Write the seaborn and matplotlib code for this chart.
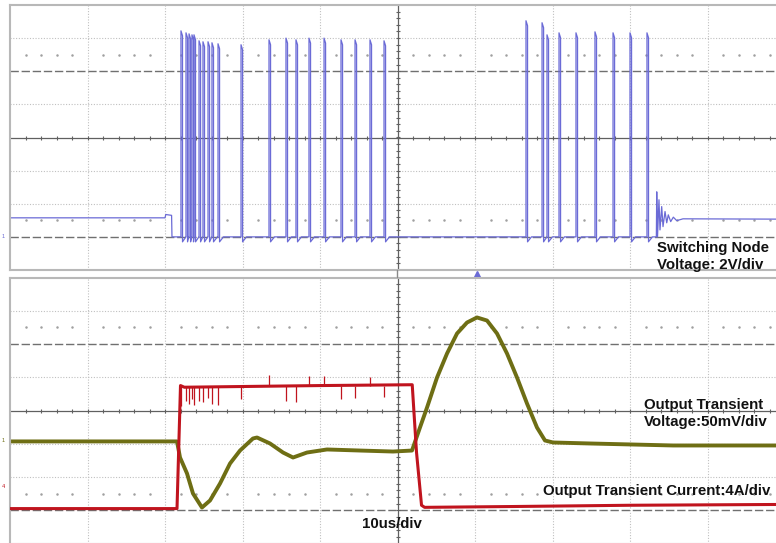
"""
Scope capture: load transient with switching node, output voltage and load current.
Time in us (10us/div), switch node in V (2V/div), Vout in mV (50mV/div), Iout in A (4A/div).
"""

import matplotlib.pyplot as plt
import numpy as np
import pandas as pd
import seaborn as sns

# ---- switching node (top panel) ----
sw_lead_t = [-50.0, -30.0, -29.9, -29.15, -29.1]
sw_lead_v = [1.15, 1.15, 1.35, 1.3, 0.0]
sw_pulse_t = [-27.94, -27.29, -26.90, -26.52, -26.26, -25.61, -25.10, -24.45, -23.94, -23.16,
              -20.19, -16.58, -14.39, -13.10, -11.42, -9.48, -7.29, -5.48, -3.55, -1.74,
              16.58, 18.65, 19.29, 20.84, 23.03, 25.48, 27.81, 30.00, 32.19]
sw_pulse_v = [12.44, 12.32, 12.26, 12.2, 12.2, 11.84, 11.78, 11.78, 11.72, 11.66,
              11.6, 11.9, 12.0, 11.9, 12.0, 12.0, 11.9, 11.9, 11.9, 11.84,
              13.05, 12.93, 12.2, 12.32, 12.32, 12.38, 12.32, 12.32, 12.32]
ring_t = [33.40, 33.45, 33.55, 33.74, 33.87, 34.09, 34.26, 34.52, 34.74, 34.94,
          35.25, 35.59, 36.03, 36.84, 50.0]
ring_v = [0.0, 2.72, 0.0, 2.24, 0.42, 1.83, 0.62, 1.53, 0.85, 1.33,
          0.92, 1.19, 0.98, 1.09, 1.07]

# ---- output voltage (bottom panel, mV) ----
vout_t = [-50.0, -28.45, -28.06, -27.16, -26.39, -25.23, -24.19, -22.9, -21.61, -20.32,
          -18.65, -18.13, -16.45, -14.77, -13.48, -11.68, -9.10, -4.84, -0.58, 1.87,
          2.90, 3.81, 5.10, 6.39, 7.68, 8.97, 10.26, 11.55, 12.84, 14.13,
          15.42, 16.71, 18.0, 19.03, 20.06, 24.84, 35.55, 50.0]
vout_mv = [3.5, 3.5, -20.7, -44.7, -74.8, -95.9, -85.3, -59.8, -29.7, -10.2,
           7.9, 9.4, 0.4, -13.2, -20.7, -13.2, -8.6, -10.2, -11.7, -10.2,
           24.4, 54.5, 99.6, 135.7, 165.8, 182.3, 189.9, 185.3, 165.8, 135.7,
           99.6, 60.5, 24.4, 4.9, 1.9, 0.4, -2.6, -2.6]

# ---- output current (bottom panel, A) ----
iout_t = [-50.0, -28.45, -28.0, -27.5, -10.0, 1.9, 2.45, 3.1, 3.5, 15.0, 30.0, 50.0]
iout_a = [0.2, 0.2, 15.0, 14.8, 15.0, 15.1, 7.0, 0.6, 0.35, 0.45, 0.6, 0.7]
spike_a = [-2.4, -1.8, -2.2, -1.6, -2.3, -1.8, -2.0, -1.5, -2.2, -2.3,
           -1.6, 1.3, -1.8, -2.0, 1.2, 1.1, -1.6, -1.5, 1.0, -1.4]

BLUE = '#6b6bd6'
OLIVE = '#6e6e14'
RED = '#c0141e'

sns.set_style('white')
plt.rcParams['font.family'] = ['Liberation Sans', 'DejaVu Sans']

W, H = 776, 543
fig = plt.figure(figsize=(W / 100, H / 100), dpi=100)
ax_top = fig.add_axes([10 / W, 273 / H, 775 / W, 265 / H])
ax_bot = fig.add_axes([10 / W, -0.5 / H, 775 / W, 266 / H])


def graticule(ax, center, per_div):
    ax.set_xlim(-50, 50)
    ax.set_ylim(center - 4 * per_div, center + 4 * per_div)
    for t in range(-40, 50, 10):
        if t != 0:
            ax.axvline(t, color='#c0c0c0', lw=0.8, ls=(0, (1, 1.5)), zorder=0)
    for k in [-3, -2, -1, 1, 2, 3]:
        if k in (2, -3):
            ax.axhline(center + k * per_div, color='#707070', lw=1.0, ls=(0, (6, 2)), zorder=0)
        else:
            ax.axhline(center + k * per_div, color='#c0c0c0', lw=0.8, ls=(0, (1, 1.5)), zorder=0)
    ax.axhline(center, color='#606060', lw=0.9, zorder=0)
    ax.axvline(0, color='#606060', lw=0.9, zorder=0)
    xt = np.arange(-48, 50, 2)
    ax.plot(xt, np.full(len(xt), center), ls='none', marker='|', ms=3.5, mew=0.8, color='#606060', zorder=0)
    yt = center + np.arange(-3.8, 3.9, 0.2) * per_div
    ax.plot(np.zeros(len(yt)), yt, ls='none', marker='_', ms=3.5, mew=0.8, color='#606060', zorder=0)
    xd = xt[xt % 10 != 0]
    for k in (2.5, -2.5):
        ax.plot(xd, np.full(len(xd), center + k * per_div), ls='none', marker='o', ms=0.8,
                color='#a0a0a0', zorder=0)
    ax.set_xticks([])
    ax.set_yticks([])
    ax.set_xlabel('')
    ax.set_ylabel('')
    for s in ax.spines.values():
        s.set_color('#b8b8b8')
        s.set_linewidth(1.5)


graticule(ax_top, 6.0, 2.0)
graticule(ax_bot, 50.0, 50.0)

# build switching node trace from the pulse list
sw_x = list(sw_lead_t)
sw_y = list(sw_lead_v)
pulse_w = 0.2
for i, (t0, top) in enumerate(zip(sw_pulse_t, sw_pulse_v)):
    nxt = sw_pulse_t[i + 1] if i + 1 < len(sw_pulse_t) else ring_t[0]
    sw_x += [t0, t0, t0 + pulse_w, t0 + pulse_w, min(t0 + pulse_w + 0.5, nxt - 0.02)]
    sw_y += [0.0, top, top - 0.3, -0.3, 0.0]
sw_x += ring_t
sw_y += ring_v
sw = pd.DataFrame({'t': sw_x, 'v': sw_y})
sns.lineplot(data=sw, x='t', y='v', sort=False, estimator=None, color=BLUE, lw=0.9, ax=ax_top)

vout = pd.DataFrame({'t': vout_t, 'mv': vout_mv})
sns.lineplot(data=vout, x='t', y='mv', sort=False, estimator=None, color=OLIVE, lw=2.8, ax=ax_bot)

ax_i = ax_bot.twinx()
ax_i.set_ylim(-4, 28)
ax_i.set_yticks([])
ax_i.set_ylabel('')
for s in ax_i.spines.values():
    s.set_visible(False)
iout = pd.DataFrame({'t': iout_t, 'a': iout_a})
sns.lineplot(data=iout, x='t', y='a', sort=False, estimator=None, color=RED, lw=2.2, ax=ax_i)
spike_t = sw_pulse_t[:len(spike_a)]
ax_i.vlines(spike_t, 15.0, [15.0 + a for a in spike_a], color=RED, lw=0.9)
ax_i.set_xlim(-50, 50)
ax_bot.set_xlabel('')
ax_bot.set_ylabel('')

# trigger marker and centre line across the gap
ax_top.plot([10.3], [-2.25], marker='^', ms=4, color=BLUE, clip_on=False)
fig.add_artist(plt.Line2D([397.5 / W, 397.5 / W], [1 - 277 / H, 1 - 270 / H], color='#8a8a8a', lw=1))

# channel markers on the left
fig.text(2 / W, 1 - 238 / H, '1', color=BLUE, fontsize=4)
fig.text(2 / W, 1 - 442 / H, '1', color=OLIVE, fontsize=4)
fig.text(2 / W, 1 - 488 / H, '4', color=RED, fontsize=4)

labels = [
    (657, 252, 'Switching Node'),
    (657, 269, 'Voltage: 2V/div'),
    (644, 409, 'Output Transient'),
    (644, 426, 'Voltage:50mV/div'),
    (543, 495, 'Output Transient Current:4A/div'),
    (362, 528, '10us/div'),
]
for x, y, s in labels:
    fig.text(x / W, 1 - y / H, s, fontsize=10.8, fontweight='bold', color='#111111',
             ha='left', va='baseline')

plt.savefig('out.png', dpi=100)
print('Finished!')
